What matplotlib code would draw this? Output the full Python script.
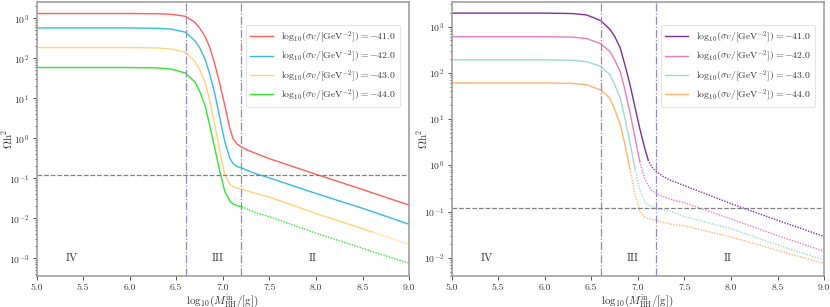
import numpy as np
import matplotlib
matplotlib.use("Agg")
import matplotlib.pyplot as plt
import matplotlib.transforms as mtransforms

plt.rcParams["font.family"] = "serif"
plt.rcParams["font.serif"] = ["cmr10", "DejaVu Serif"]
plt.rcParams["mathtext.fontset"] = "cm"
plt.rcParams["axes.formatter.use_mathtext"] = True

## data: log10(M_BH / g) grid and log10(Omega h^2) ##
log_mass = [5.0, 5.5, 6.0, 6.3, 6.45, 6.6, 6.7, 6.75, 6.81, 6.86, 6.915, 6.97,
            7.02, 7.075, 7.11, 7.15, 7.2, 7.27, 7.345, 7.5, 8.0, 8.5, 8.6, 9.0]

sigma_labels = ["41.0", "42.0", "43.0", "44.0"]

# left panel
left_m41 = [3.12, 3.12, 3.12, 3.115, 3.10, 3.05, 2.90, 2.76, 2.54, 2.27, 1.84, 1.34,
            0.83, 0.25, -0.01, -0.14, -0.22, -0.30, -0.37, -0.51, -0.90, -1.28, -1.36, -1.67]
left_m42 = [2.76, 2.76, 2.76, 2.75, 2.73, 2.65, 2.44, 2.27, 1.97, 1.60, 1.10, 0.48,
            -0.08, -0.50, -0.63, -0.70, -0.74, -0.81, -0.88, -0.99, -1.38, -1.75, -1.83, -2.15]
left_m43 = [2.27, 2.27, 2.27, 2.26, 2.23, 2.15, 1.92, 1.72, 1.39, 0.93, 0.31, -0.35,
            -0.90, -1.15, -1.21, -1.24, -1.27, -1.32, -1.37, -1.47, -1.88, -2.26, -2.34, -2.65]
left_m44 = [1.77, 1.77, 1.77, 1.76, 1.73, 1.63, 1.41, 1.18, 0.81, 0.31, -0.27, -0.85,
            -1.32, -1.57, -1.64, -1.68, -1.71, -1.78, -1.85, -1.96, -2.37, -2.75, -2.83, -3.12]
left_dotted_from = [None, None, 8.6, 7.2]
left_yticks = [1e-3, 1e-2, 1e-1, 1e0, 1e1, 1e2, 1e3]

# right panel
right_m41 = [3.29, 3.29, 3.29, 3.28, 3.25, 3.13, 2.94, 2.79, 2.54, 2.18, 1.75, 1.25,
             0.80, 0.36, 0.12, -0.04, -0.14, -0.24, -0.32, -0.44, -0.83, -1.19, -1.26, -1.54]
right_m42 = [2.78, 2.78, 2.78, 2.77, 2.74, 2.63, 2.46, 2.28, 2.03, 1.64, 1.14, 0.60,
             0.08, -0.30, -0.43, -0.55, -0.61, -0.67, -0.73, -0.81, -1.16, -1.52, -1.59, -1.86]
right_m43 = [2.28, 2.28, 2.28, 2.27, 2.24, 2.14, 1.96, 1.75, 1.46, 1.03, 0.49, -0.08,
             -0.53, -0.80, -0.86, -0.89, -0.93, -0.96, -0.99, -1.11, -1.37, -1.72, -1.79, -2.05]
right_m44 = [1.78, 1.78, 1.78, 1.77, 1.74, 1.63, 1.45, 1.21, 0.89, 0.46, -0.08, -0.64,
             -0.98, -1.12, -1.15, -1.17, -1.19, -1.23, -1.27, -1.31, -1.55, -1.84, -1.90, -2.12]
right_dotted_from = [7.11, 7.02, 6.97, 6.915]
right_yticks = [1e-2, 1e-1, 1e0, 1e1, 1e2, 1e3]

left_colors = ["#ff5e5e", "#36bcd8", "#ffd37a", "#33e433"]
right_colors = ["#7b3294", "#e87dbd", "#99ddce", "#ffb36e"]

omega_obs = 0.12
region_x = [5.38, 6.94, 7.96]
region_names = ["IV", "III", "II"]
boundaries = [6.6, 7.2]


def draw_panel(ax, curves, colors, dotted_from, ylim, yticks):
    x = np.array(log_mass)
    for logy, col, lab, cut in zip(curves, colors, sigma_labels, dotted_from):
        y = 10.0 ** np.array(logy)
        label = r"$\mathrm{log}_{10}(\sigma v/[\mathrm{GeV}^{-2}]) = {-}%s$" % lab
        if cut is None:
            ax.plot(x, y, color=col, lw=1.0, label=label)
        else:
            solid = x <= cut + 1e-9
            dot = x >= cut - 1e-9
            ax.plot(x[solid], y[solid], color=col, lw=1.0, label=label)
            ax.plot(x[dot], y[dot], color=col, lw=1.0, ls=(0, (1, 1)))

    ax.axhline(omega_obs, color="#808080", lw=0.9, ls="--")
    for b in boundaries:
        ax.axvline(b, color="#9088c0", lw=0.9, ls="-.")

    trans = mtransforms.blended_transform_factory(ax.transData, ax.transAxes)
    for rx, name in zip(region_x, region_names):
        ax.text(rx, 0.065, name, transform=trans, ha="center", va="center",
                fontsize=8, color="#333333")

    ax.set_yscale("log")
    ax.set_xlim(5.0, 9.0)
    ax.set_yticks(yticks)
    ax.set_ylim(*ylim)
    ax.set_xticks(np.arange(5.0, 9.01, 0.5))
    ax.set_xticklabels(["%.1f" % v for v in np.arange(5.0, 9.01, 0.5)])
    ax.set_xlabel(r"$\mathrm{log}_{10}(M_{\mathrm{BH}}^{\mathrm{in}}/[\mathrm{g}])$",
                  fontsize=8, labelpad=0, color="#333333")
    ax.set_ylabel(r"$\Omega\mathrm{h}^2$", fontsize=8, color="#333333")
    ax.yaxis.set_label_coords(-0.058, 0.5)
    ax.tick_params(labelsize=7, colors="#333333", length=3, width=0.6, pad=2)
    ax.tick_params(which="minor", length=1.5, width=0.5)
    for sp in ax.spines.values():
        sp.set_color("#a0a0a0")
        sp.set_linewidth(1.2)

    leg = ax.legend(loc="upper right", bbox_to_anchor=(0.976, 0.915), fontsize=7,
                    frameon=True, fancybox=True, handlelength=2.4,
                    labelspacing=0.35, borderpad=0.45, borderaxespad=0)
    leg.get_frame().set_edgecolor("#dddddd")
    leg.get_frame().set_linewidth(0.8)
    for t in leg.get_texts():
        t.set_color("#333333")


def main():
    fig = plt.figure(figsize=(8.3, 3.07), dpi=100)
    ax1 = fig.add_axes([0.044, 0.10, 0.449, 0.895])
    ax2 = fig.add_axes([0.544, 0.10, 0.449, 0.895])

    draw_panel(ax1, [left_m41, left_m42, left_m43, left_m44], left_colors,
               left_dotted_from, (10 ** -3.45, 10 ** 3.42), left_yticks)
    draw_panel(ax2, [right_m41, right_m42, right_m43, right_m44], right_colors,
               right_dotted_from, (10 ** -2.40, 10 ** 3.54), right_yticks)

    fig.savefig("out.png", dpi=100)


if __name__ == "__main__":
    main()
